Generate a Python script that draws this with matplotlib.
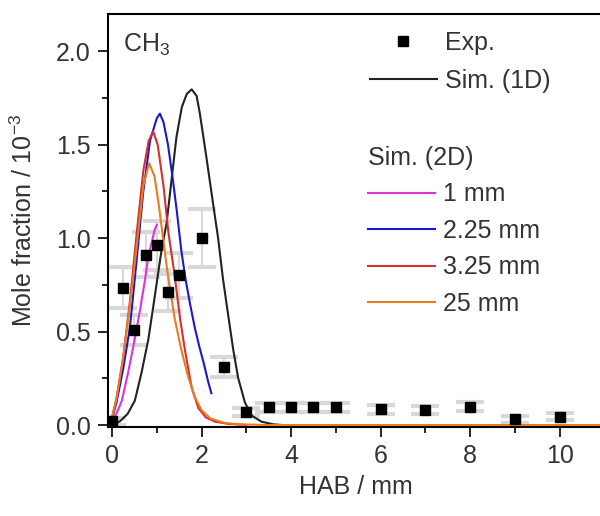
import matplotlib
matplotlib.use("Agg")
import matplotlib.pyplot as plt
from matplotlib.ticker import MultipleLocator

plt.rcParams['font.family'] = ['Liberation Sans', 'DejaVu Sans']
plt.rcParams['mathtext.fontset'] = 'custom'
plt.rcParams['mathtext.rm'] = 'Liberation Sans'
plt.rcParams['mathtext.it'] = 'Liberation Sans'
plt.rcParams['mathtext.default'] = 'regular'

# Experimental data
exp_x = [0.0, 0.25, 0.5, 0.75, 1.0, 1.25, 1.5, 2.0, 2.5, 3.0, 3.5, 4.0, 4.5, 5.0, 6.0, 7.0, 8.0, 9.0, 10.0]
exp_y = [0.02, 0.735, 0.51, 0.91, 0.96, 0.71, 0.80, 1.00, 0.31, 0.07, 0.095, 0.095, 0.095, 0.095, 0.084, 0.08, 0.098, 0.03, 0.045]
exp_err = [0.02, 0.11, 0.08, 0.12, 0.13, 0.10, 0.12, 0.155, 0.055, 0.02, 0.025, 0.025, 0.025, 0.025, 0.025, 0.02, 0.025, 0.02, 0.02]

# Sim (1D)
sim1d_x = [0.0, 0.18, 0.35, 0.51, 0.66, 0.81, 0.92, 1.03, 1.11, 1.22, 1.33, 1.44, 1.56, 1.67, 1.78,
           1.89, 1.96, 2.11, 2.26, 2.37, 2.48, 2.60, 2.71, 2.82, 2.97, 3.12, 3.34, 3.6, 3.8]
sim1d_y = [0.0, 0.02, 0.06, 0.13, 0.28, 0.455, 0.63, 0.81, 0.94, 1.08, 1.31, 1.54, 1.70, 1.77, 1.795,
           1.76, 1.67, 1.43, 1.18, 1.00, 0.78, 0.58, 0.40, 0.25, 0.12, 0.05, 0.018, 0.004, 0.0]

# Sim (2D) 1 mm
s1_x = [0.0, 0.1, 0.22, 0.36, 0.51, 0.63, 0.74, 0.81, 0.89, 0.95, 1.0]
s1_y = [0.02, 0.06, 0.13, 0.28, 0.46, 0.62, 0.78, 0.90, 0.98, 1.04, 1.07]

# Sim (2D) 2.25 mm
s2_x = [0.0, 0.1, 0.25, 0.4, 0.55, 0.7, 0.85, 1.0, 1.07, 1.15, 1.25, 1.35, 1.45, 1.55, 1.65, 1.75,
        1.85, 1.95, 2.05, 2.15, 2.22]
s2_y = [0.03, 0.12, 0.30, 0.52, 0.88, 1.25, 1.52, 1.64, 1.665, 1.62, 1.50, 1.33, 1.14, 0.93, 0.77,
        0.64, 0.52, 0.42, 0.33, 0.23, 0.17]

# Sim (2D) 3.25 mm
s3_x = [0.0, 0.1, 0.25, 0.4, 0.55, 0.7, 0.82, 0.92, 1.02, 1.15, 1.26, 1.4, 1.52, 1.63, 1.78, 1.93,
        2.1, 2.3, 2.6, 3.0]
s3_y = [0.04, 0.14, 0.36, 0.66, 1.02, 1.36, 1.52, 1.57, 1.50, 1.28, 1.03, 0.80, 0.57, 0.40, 0.20, 0.09,
        0.04, 0.018, 0.006, 0.0]

# Sim (2D) 25 mm
s4_x = [0.0, 0.1, 0.25, 0.4, 0.55, 0.7, 0.83, 0.95, 1.05, 1.15, 1.25, 1.4, 1.55, 1.7, 1.85, 2.0,
        2.2, 2.5, 2.8, 3.5, 11.0]
s4_y = [0.04, 0.14, 0.36, 0.64, 0.95, 1.28, 1.40, 1.33, 1.17, 0.98, 0.80, 0.57, 0.40, 0.26, 0.15, 0.08,
        0.035, 0.012, 0.004, 0.0, 0.0]

text_color = '#333333'
fs = 18

fig = plt.figure(figsize=(6.0, 5.16), dpi=100)
W, H = 600.0, 516.0
ax = fig.add_axes([107.5 / W, (H - 426.9) / H, 497 / W, 413.3 / H])

ax.errorbar(exp_x, exp_y, yerr=exp_err, fmt='none', ecolor='#d8d8d8', elinewidth=1.5,
            capsize=10, capthick=3, zorder=1)
l_exp, = ax.plot(exp_x, exp_y, 's', color='black', markersize=7, linestyle='none', zorder=4)

l_1d, = ax.plot(sim1d_x, sim1d_y, color='#222222', lw=1.5, zorder=3)
l_s1, = ax.plot(s1_x, s1_y, color='#dd33dd', lw=1.5, zorder=3)
l_s2, = ax.plot(s2_x, s2_y, color='#1a1acc', lw=1.5, zorder=3)
l_s3, = ax.plot(s3_x, s3_y, color='#d43030', lw=1.5, zorder=3)
l_s4, = ax.plot(s4_x, s4_y, color='#e87c1e', lw=1.5, zorder=3)

ax.set_xlim(-0.1, 11)
ax.set_ylim(-0.01, 2.2)

ax.xaxis.set_major_locator(MultipleLocator(2))
ax.xaxis.set_minor_locator(MultipleLocator(1))
ax.yaxis.set_major_locator(MultipleLocator(0.5))
ax.yaxis.set_minor_locator(MultipleLocator(0.25))
ax.yaxis.set_major_formatter(plt.FuncFormatter(lambda v, p: f"{v:.1f}"))

ax.tick_params(which='major', direction='out', length=7, width=1.2, labelsize=fs,
               labelcolor=text_color, pad=5)
ax.tick_params(which='minor', direction='out', length=4, width=1.2)
ax.tick_params(axis='x', which='both', top=False)
ax.tick_params(axis='y', which='both', right=False)

for s in ['left', 'bottom', 'top']:
    ax.spines[s].set_linewidth(1.5)
ax.spines['right'].set_visible(False)

ax.set_xlabel('HAB / mm', fontsize=fs, color=text_color, labelpad=5)
ax.set_ylabel('Mole fraction / 10$^{-3}$', fontsize=fs, color=text_color, labelpad=14)

ax.text(0.25, 2.03, 'CH$_3$', fontsize=fs, color=text_color, ha='left', va='center')

leg1 = ax.legend([l_exp, l_1d], ['Exp.', 'Sim. (1D)'], loc='upper left',
                 bbox_to_anchor=(0.528, 0.958), frameon=False, fontsize=fs,
                 handlelength=2.68, handletextpad=0.32, labelspacing=0.56, borderpad=0,
                 borderaxespad=0, labelcolor=text_color)
ax.add_artist(leg1)
leg2 = ax.legend([l_s1, l_s2, l_s3, l_s4], ['1 mm', '2.25 mm', '3.25 mm', '25 mm'],
                 loc='upper left', bbox_to_anchor=(0.524, 0.68), frameon=False, fontsize=fs,
                 handlelength=2.68, handletextpad=0.32, labelspacing=0.5, borderpad=0,
                 borderaxespad=0, labelcolor=text_color, title='Sim. (2D)',
                 title_fontsize=fs, alignment='left')
leg2.get_title().set_color(text_color)

fig.savefig('out.png', dpi=100)
